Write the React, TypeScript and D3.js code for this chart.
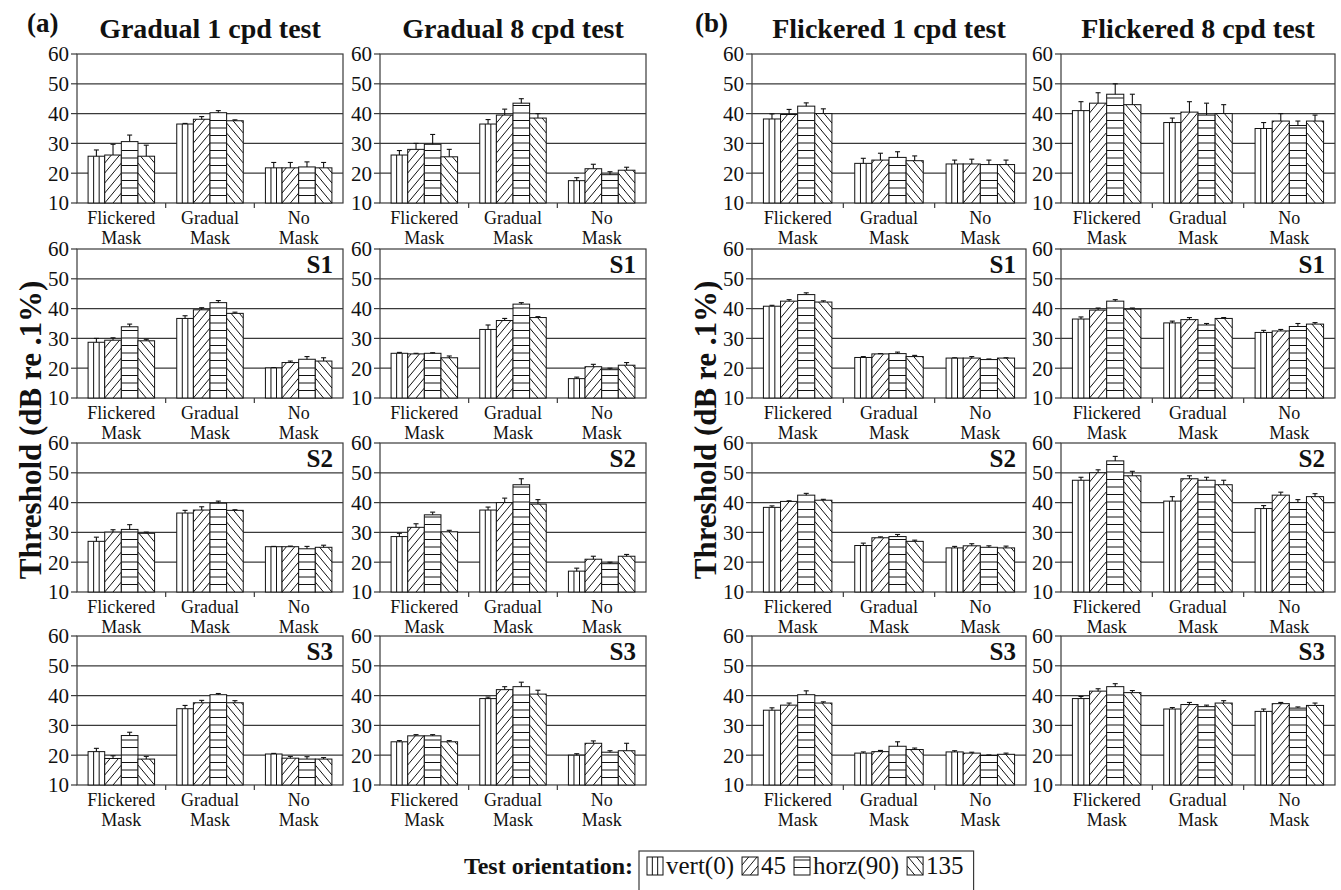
import React from "react";
import * as d3 from "d3";

// ---------------- data ----------------
const panelTitles = ["Gradual 1 cpd test", "Gradual 8 cpd test", "Flickered 1 cpd test", "Flickered 8 cpd test"];
const subjectLabels = ["", "S1", "S2", "S3"];
const maskCategories = ["Flickered Mask", "Gradual Mask", "No Mask"];
const orientations = ["vert(0)", "45", "horz(90)", "135"];
const yTicks = [10, 20, 30, 40, 50, 60];
const gridValues = [20, 30, 40, 50];

// means [mask][orientation], errs = upper error bar length
const grad1Mean = [[25.7, 26.1, 30.6, 25.7], [36.5, 38.1, 40.3, 37.6], [21.8, 21.8, 22.1, 21.8]];
const grad1MeanErr = [[2.1, 3.6, 2.2, 3.7], [0.2, 0.9, 0.7, 0.3], [1.8, 1.8, 1.7, 1.8]];
const grad1S1 = [[28.7, 29.4, 33.9, 29.2], [36.7, 39.6, 42.0, 38.4], [20.1, 21.9, 23.0, 22.4]];
const grad1S1Err = [[1.3, 0.8, 0.9, 0.5], [0.9, 0.7, 0.7, 0.4], [0.1, 0.5, 0.9, 1.1]];
const grad1S2 = [[27.0, 30.1, 31.0, 29.7], [36.5, 37.5, 39.8, 37.4], [25.2, 25.2, 24.5, 25.0]];
const grad1S2Err = [[1.4, 0.8, 1.6, 0.4], [0.9, 1.1, 0.7, 0.2], [0.1, 0.2, 0.8, 0.7]];
const grad1S3 = [[21.2, 18.9, 26.6, 18.7], [35.6, 37.6, 40.3, 37.6], [20.4, 19.0, 18.7, 18.7]];
const grad1S3Err = [[1.1, 0.9, 1.1, 0.9], [1.1, 0.8, 0.4, 0.7], [0.2, 0.6, 0.8, 0.5]];

const grad8Mean = [[26.1, 28.0, 29.7, 25.5], [36.5, 39.5, 43.5, 38.5], [17.5, 21.5, 19.5, 21.0]];
const grad8MeanErr = [[1.5, 2.0, 3.3, 2.5], [1.5, 2.0, 1.5, 1.5], [1.0, 1.5, 1.0, 1.0]];
const grad8S1 = [[25.0, 24.8, 25.0, 23.5], [33.0, 36.0, 41.5, 37.0], [16.5, 20.5, 19.5, 21.0]];
const grad8S1Err = [[0.3, 0.2, 0.2, 0.6], [1.5, 0.7, 0.5, 0.3], [0.5, 0.8, 0.5, 0.9]];
const grad8S2 = [[28.6, 31.7, 35.9, 30.2], [37.5, 40.0, 46.0, 39.5], [17.0, 21.0, 19.5, 22.0]];
const grad8S2Err = [[1.1, 1.2, 0.9, 0.5], [1.0, 1.5, 2.0, 1.5], [1.0, 1.0, 0.5, 0.6]];
const grad8S3 = [[24.5, 26.5, 26.5, 24.5], [39.0, 42.0, 43.0, 40.5], [20.0, 24.0, 21.0, 21.5]];
const grad8S3Err = [[0.4, 0.4, 0.4, 0.4], [0.5, 1.0, 1.5, 1.3], [0.5, 0.8, 0.5, 2.5]];

const flick1Mean = [[38.2, 39.7, 42.5, 40.0], [23.3, 24.4, 25.3, 24.2], [23.1, 23.1, 22.9, 22.9]];
const flick1MeanErr = [[1.7, 1.7, 1.1, 1.6], [1.7, 2.3, 1.9, 1.6], [1.3, 1.6, 1.5, 1.5]];
const flick1S1 = [[40.8, 42.5, 44.7, 42.2], [23.6, 24.8, 24.9, 23.9], [23.4, 23.4, 22.9, 23.4]];
const flick1S1Err = [[0.3, 0.5, 0.6, 0.4], [0.3, 0.1, 0.5, 0.4], [0.1, 0.5, 0.2, 0.1]];
const flick1S2 = [[38.4, 40.4, 42.5, 40.8], [25.6, 28.2, 28.6, 27.0], [24.8, 25.5, 25.0, 24.8]];
const flick1S2Err = [[0.5, 0.2, 0.6, 0.3], [0.8, 0.3, 0.7, 0.4], [0.5, 0.7, 0.5, 0.6]];
const flick1S3 = [[35.1, 36.8, 40.3, 37.5], [20.7, 21.2, 23.0, 21.9], [21.1, 20.7, 19.9, 20.3]];
const flick1S3Err = [[0.8, 0.7, 1.3, 0.4], [0.4, 0.4, 1.5, 0.5], [0.4, 0.3, 0.2, 0.4]];

const flick8Mean = [[41.0, 43.5, 46.5, 43.0], [37.0, 40.5, 39.5, 40.0], [35.0, 37.5, 36.0, 37.5]];
const flick8MeanErr = [[3.0, 3.5, 3.5, 3.5], [1.5, 3.5, 4.0, 3.0], [2.0, 2.5, 1.5, 2.0]];
const flick8S1 = [[36.5, 39.5, 42.5, 39.8], [35.2, 36.3, 34.5, 36.7], [32.0, 32.5, 34.0, 34.8]];
const flick8S1Err = [[0.7, 0.7, 0.5, 0.4], [0.6, 0.7, 0.5, 0.3], [0.7, 0.5, 1.0, 0.5]];
const flick8S2 = [[47.5, 50.0, 54.0, 49.0], [40.5, 48.0, 47.5, 46.0], [38.0, 42.5, 40.0, 42.0]];
const flick8S2Err = [[1.0, 1.0, 1.5, 1.5], [1.5, 1.0, 1.0, 1.5], [1.0, 1.0, 1.0, 1.0]];
const flick8S3 = [[39.0, 41.5, 43.0, 41.0], [35.5, 37.0, 36.3, 37.5], [34.7, 37.3, 35.8, 36.7]];
const flick8S3Err = [[0.7, 0.8, 1.0, 0.7], [0.5, 0.7, 0.5, 0.8], [0.8, 0.4, 0.4, 0.8]];

// panels[col][row]
const panelMeans = [
  [grad1Mean, grad1S1, grad1S2, grad1S3],
  [grad8Mean, grad8S1, grad8S2, grad8S3],
  [flick1Mean, flick1S1, flick1S2, flick1S3],
  [flick8Mean, flick8S1, flick8S2, flick8S3],
];
const panelErrs = [
  [grad1MeanErr, grad1S1Err, grad1S2Err, grad1S3Err],
  [grad8MeanErr, grad8S1Err, grad8S2Err, grad8S3Err],
  [flick1MeanErr, flick1S1Err, flick1S2Err, flick1S3Err],
  [flick8MeanErr, flick8S1Err, flick8S2Err, flick8S3Err],
];

// ---------------- layout ----------------
const W = 1341;
const H = 890;
const FONT = "'Liberation Serif', 'Times New Roman', Times, serif";
const colLeft = [77, 380, 752, 1061];
const colWidth = [266, 266, 274, 274];
const rowTop = [54, 249, 443, 636];
const plotH = 149;
const AXIS = "#3a3a3a";

type Seg = [number, number, number, number];

function hatchLines(kind: number, x: number, y: number, w: number, h: number): Seg[] {
  const lines: Seg[] = [];
  const bottom = y + h;
  if (kind === 0) {
    for (let i = 1; i < 3; i++) lines.push([x + (w * i) / 3, y, x + (w * i) / 3, bottom]);
  } else if (kind === 2) {
    for (let yy = bottom - 7.5; yy > y + 1.5; yy -= 7.5) lines.push([x, yy, x + w, yy]);
  } else {
    const s = 1.2;
    const sp = 10;
    const rise = w * s;
    for (let k = -Math.ceil(rise / sp) - 1; k * sp < h + sp; k++) {
      const yb = bottom - k * sp;
      if (kind === 1) lines.push([x, yb, x + w, yb - rise]);
      else lines.push([x, yb - rise, x + w, yb]);
    }
  }
  return lines;
}

function HatchRect({ id, kind, x, y, w, h }: { id: string; kind: number; x: number; y: number; w: number; h: number }) {
  const lines = hatchLines(kind, x, y, w, h);
  return (
    <g>
      <clipPath id={id}>
        <rect x={x} y={y} width={w} height={h} />
      </clipPath>
      <rect x={x} y={y} width={w} height={h} fill="#fff" />
      <g clipPath={`url(#${id})`}>
        {lines.map((l, i) => (
          <line key={i} x1={l[0]} y1={l[1]} x2={l[2]} y2={l[3]} stroke="#111" strokeWidth={1} />
        ))}
      </g>
      <rect x={x} y={y} width={w} height={h} fill="none" stroke="#111" strokeWidth={1} />
    </g>
  );
}

function Panel({ col, row }: { col: number; row: number }) {
  const x0 = colLeft[col];
  const w = colWidth[col];
  const y0 = rowTop[row];
  const means = panelMeans[col][row];
  const errs = panelErrs[col][row];
  const y = d3.scaleLinear().domain([10, 60]).range([y0 + plotH, y0]);
  const xb = d3.scaleBand<string>().domain(maskCategories).range([x0, x0 + w]).paddingInner(0.25).paddingOuter(0.125);
  const xo = d3.scaleBand<string>().domain(orientations).range([0, xb.bandwidth()]);
  const bottom = y(10);
  const step = xb.step();
  return (
    <g>
      {gridValues.map((v) => (
        <line key={v} x1={x0} x2={x0 + w} y1={y(v)} y2={y(v)} stroke={AXIS} strokeWidth={1.2} />
      ))}
      <rect x={x0} y={y(60)} width={w} height={plotH} fill="none" stroke={AXIS} strokeWidth={1.2} />
      {yTicks.map((v) => (
        <g key={v}>
          <line x1={x0 - 6} x2={x0} y1={y(v)} y2={y(v)} stroke={AXIS} strokeWidth={1.2} />
          <text x={x0 - 8} y={y(v)} dy="0.35em" textAnchor="end" fontSize={21} fontFamily={FONT} fill="#111">
            {v}
          </text>
        </g>
      ))}
      {[1, 2].map((i) => (
        <line key={i} x1={x0 + step * i} x2={x0 + step * i} y1={bottom} y2={bottom + 5} stroke={AXIS} strokeWidth={1.2} />
      ))}
      {maskCategories.map((m, gi) => {
        const cx = (xb(m) as number) + xb.bandwidth() / 2;
        return (
          <g key={m}>
            {orientations.map((o, oi) => {
              const bx = (xb(m) as number) + (xo(o) as number);
              const bw = xo.bandwidth();
              const top = y(means[gi][oi]);
              const et = y(means[gi][oi] + errs[gi][oi]);
              const bc = bx + bw / 2;
              return (
                <g key={o}>
                  <HatchRect id={`c-${col}-${row}-${gi}-${oi}`} kind={oi} x={bx} y={top} w={bw} h={bottom - top} />
                  <line x1={bc} x2={bc} y1={top} y2={et} stroke="#111" strokeWidth={1.1} />
                  <line x1={bc - 2.5} x2={bc + 2.5} y1={et} y2={et} stroke="#111" strokeWidth={1.1} />
                </g>
              );
            })}
            {m.split(" ").map((t, li) => (
              <text
                key={li}
                x={cx}
                y={bottom + 21 + li * 20}
                textAnchor="middle"
                fontSize={18}
                fontFamily={FONT}
                fill="#111"
              >
                {t}
              </text>
            ))}
          </g>
        );
      })}
      {subjectLabels[row] && (
        <text x={x0 + w - 10} y={y0 + 24} textAnchor="end" fontSize={25} fontWeight="bold" fontFamily={FONT} fill="#111">
          {subjectLabels[row]}
        </text>
      )}
    </g>
  );
}

function measure(text: string, font: string): number {
  const c = document.createElement("canvas").getContext("2d");
  if (!c) return text.length * 11;
  c.font = font;
  return c.measureText(text).width;
}

function Legend() {
  const fs = 25;
  const font = `${fs}px 'Liberation Serif'`;
  let cursor = 647;
  const items = orientations.map((o, i) => {
    const sx = cursor;
    const tx = sx + 19;
    const tw = measure(o, font);
    cursor = tx + tw + 8;
    return { o, i, sx, tx };
  });
  const boxRight = cursor + 2;
  return (
    <g>
      <text x={633} y={874} textAnchor="end" fontSize={24} fontWeight="bold" fontFamily={FONT} fill="#111">
        Test orientation:
      </text>
      <rect x={639} y={851} width={boxRight - 639} height={45} fill="none" stroke={AXIS} strokeWidth={1.2} />
      {items.map((it) => (
        <g key={it.o}>
          <HatchRect id={`leg-${it.i}`} kind={it.i} x={it.sx} y={857} w={16} h={18} />
          <text x={it.tx} y={874} fontSize={fs} fontFamily={FONT} fill="#111">
            {it.o}
          </text>
        </g>
      ))}
    </g>
  );
}

export default function App() {
  return (
    <svg width={W} height={H} style={{ position: "absolute", left: 0, top: 0, background: "#fff" }}>
      <rect x={0} y={0} width={W} height={H} fill="#fff" />
      {panelTitles.map((t, c) => (
        <text key={t} x={colLeft[c] + colWidth[c] / 2} y={38} textAnchor="middle" fontSize={28} fontWeight="bold" fontFamily={FONT} fill="#111">
          {t}
        </text>
      ))}
      <text x={27} y={32} fontSize={27} fontWeight="bold" fontFamily={FONT} fill="#111">(a)</text>
      <text x={695} y={32} fontSize={27} fontWeight="bold" fontFamily={FONT} fill="#111">(b)</text>
      {[colLeft[0], colLeft[2]].map((cl, i) => (
        <text
          key={i}
          transform={`translate(${cl - 36},${430}) rotate(-90)`}
          textAnchor="middle"
          fontSize={31}
          fontWeight="bold"
          fontFamily={FONT}
          fill="#111"
        >
          Threshold (dB re .1%)
        </text>
      ))}
      {panelTitles.map((_, c) =>
        subjectLabels.map((__, r) => <Panel key={`${c}-${r}`} col={c} row={r} />)
      )}
      <Legend />
    </svg>
  );
}
